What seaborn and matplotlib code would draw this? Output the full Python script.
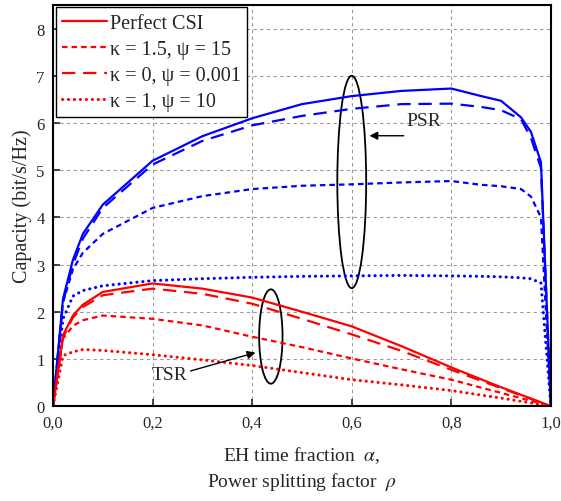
import numpy as np
import pandas as pd
import matplotlib
matplotlib.use("Agg")
import matplotlib.pyplot as plt
from matplotlib.patches import Ellipse
import seaborn as sns

# PSR curves (blue), x = power splitting factor rho
alpha_psr = [0, 0.02, 0.04, 0.06, 0.1, 0.2, 0.3, 0.4, 0.5, 0.6, 0.7, 0.8, 0.86, 0.9, 0.94, 0.96, 0.98, 1.0]
psr_perfect = [0, 2.27, 3.1, 3.65, 4.27, 5.2, 5.72, 6.1, 6.4, 6.57, 6.68, 6.73, 6.57, 6.47, 6.12, 5.81, 5.17, 0]
psr_k0 = [0, 2.2, 3.0, 3.55, 4.2, 5.12, 5.62, 5.95, 6.15, 6.3, 6.4, 6.41, 6.34, 6.27, 6.08, 5.68, 5.05, 0]
psr_k15 = [0, 2.2, 2.9, 3.25, 3.65, 4.2, 4.45, 4.6, 4.67, 4.7, 4.74, 4.77, 4.69, 4.66, 4.6, 4.44, 4.0, 0]
psr_k1 = [0, 1.85, 2.33, 2.45, 2.55, 2.66, 2.7, 2.73, 2.75, 2.76, 2.77, 2.76, 2.75, 2.74, 2.72, 2.7, 2.61, 0]

# TSR curves (red), x = EH time fraction alpha
alpha_tsr = [0, 0.02, 0.04, 0.06, 0.1, 0.2, 0.3, 0.4, 0.5, 0.6, 0.7, 0.8, 0.9, 1.0]
tsr_perfect = [0, 1.5, 1.92, 2.15, 2.42, 2.6, 2.49, 2.3, 2.0, 1.69, 1.27, 0.82, 0.4, 0]
tsr_k0 = [0, 1.45, 1.88, 2.1, 2.35, 2.49, 2.38, 2.17, 1.85, 1.52, 1.17, 0.77, 0.38, 0]
tsr_k15 = [0, 1.43, 1.7, 1.82, 1.92, 1.85, 1.71, 1.47, 1.25, 1.01, 0.78, 0.56, 0.28, 0]
tsr_k1 = [0, 1.07, 1.15, 1.2, 1.18, 1.09, 0.98, 0.86, 0.71, 0.56, 0.45, 0.33, 0.17, 0]

legend_labels = ["Perfect CSI", "κ = 1.5, ψ = 15", "κ = 0, ψ = 0.001", "κ = 1, ψ = 10"]
xtick_vals = [0, 0.2, 0.4, 0.6, 0.8, 1.0]
xtick_labels = ["0,0", "0,2", "0,4", "0,6", "0,8", "1,0"]
ytick_vals = [0, 1, 2, 3, 4, 5, 6, 7, 8]

sns.set_theme(style="ticks")
plt.rcParams["font.family"] = ["Liberation Serif", "DejaVu Serif"]
plt.rcParams["mathtext.fontset"] = "stix"

# solid, short dash, long dash, round dots
styles = [
    dict(linestyle="-", linewidth=1.6),
    dict(linestyle=(0, (2.5, 1.8)), linewidth=1.6),
    dict(linestyle=(0, (6, 3.5)), linewidth=1.6),
    dict(linestyle=(0, (0.05, 1.9)), linewidth=2.2, dash_capstyle="round"),
]
psr_series = [psr_perfect, psr_k15, psr_k0, psr_k1]
tsr_series = [tsr_perfect, tsr_k15, tsr_k0, tsr_k1]

fig, ax = plt.subplots(figsize=(5.61, 5.02), dpi=100)
fig.subplots_adjust(left=0.0945, right=0.982, bottom=0.189, top=0.988)

for vals, st in zip(psr_series, styles):
    sns.lineplot(x=alpha_psr, y=vals, ax=ax, color="#0000ff", sort=False, **st)
for vals, st, lab in zip(tsr_series, styles, legend_labels):
    sns.lineplot(x=alpha_tsr, y=vals, ax=ax, color="#ff0000", sort=False, label=lab, **st)

ax.set_xlim(0, 1.0)
ax.set_ylim(0, 8.5)
ax.set_xticks(xtick_vals)
ax.set_xticklabels(xtick_labels)
ax.set_yticks(ytick_vals)
ax.tick_params(direction="in", length=5, width=1.2, labelsize=12, pad=6)
ax.grid(True, color="#999999", linestyle=(0, (3, 3)), linewidth=0.8)
for sp in ax.spines.values():
    sp.set_visible(True)
    sp.set_linewidth(1.5)
    sp.set_color("black")

ax.set_ylabel("Capacity (bit/s/Hz)", fontsize=14.5, labelpad=3)
ax.set_xlabel("EH time fraction  $\\alpha$,\nPower splitting factor  $\\rho$",
              fontsize=14, labelpad=10, linespacing=1.3)

# ellipses and annotations
ax.add_patch(Ellipse((0.6, 4.75), 0.058, 4.5, fill=False, edgecolor="black", linewidth=1.3))
ax.add_patch(Ellipse((0.4375, 1.475), 0.047, 2.0, fill=False, edgecolor="black", linewidth=1.3))
ax.annotate("", xy=(0.63, 5.73), xytext=(0.71, 5.73),
            arrowprops=dict(arrowstyle="-|>", color="black", linewidth=1.0))
ax.text(0.71, 6.05, "PSR", fontsize=14, ha="left", va="center")
ax.annotate("", xy=(0.412, 1.15), xytext=(0.271, 0.73),
            arrowprops=dict(arrowstyle="-|>", color="black", linewidth=1.0))
ax.text(0.27, 0.68, "TSR", fontsize=14, ha="right", va="center")

leg = ax.legend(loc="upper left", bbox_to_anchor=(0.006, 0.994), borderaxespad=0,
                fontsize=14.5, frameon=True, fancybox=False, edgecolor="black",
                handlelength=2.25, labelspacing=0.35, borderpad=0.3, handletextpad=0.15)
leg.get_frame().set_linewidth(1.0)
leg.get_frame().set_alpha(1)

fig.savefig("out.png", dpi=100)
